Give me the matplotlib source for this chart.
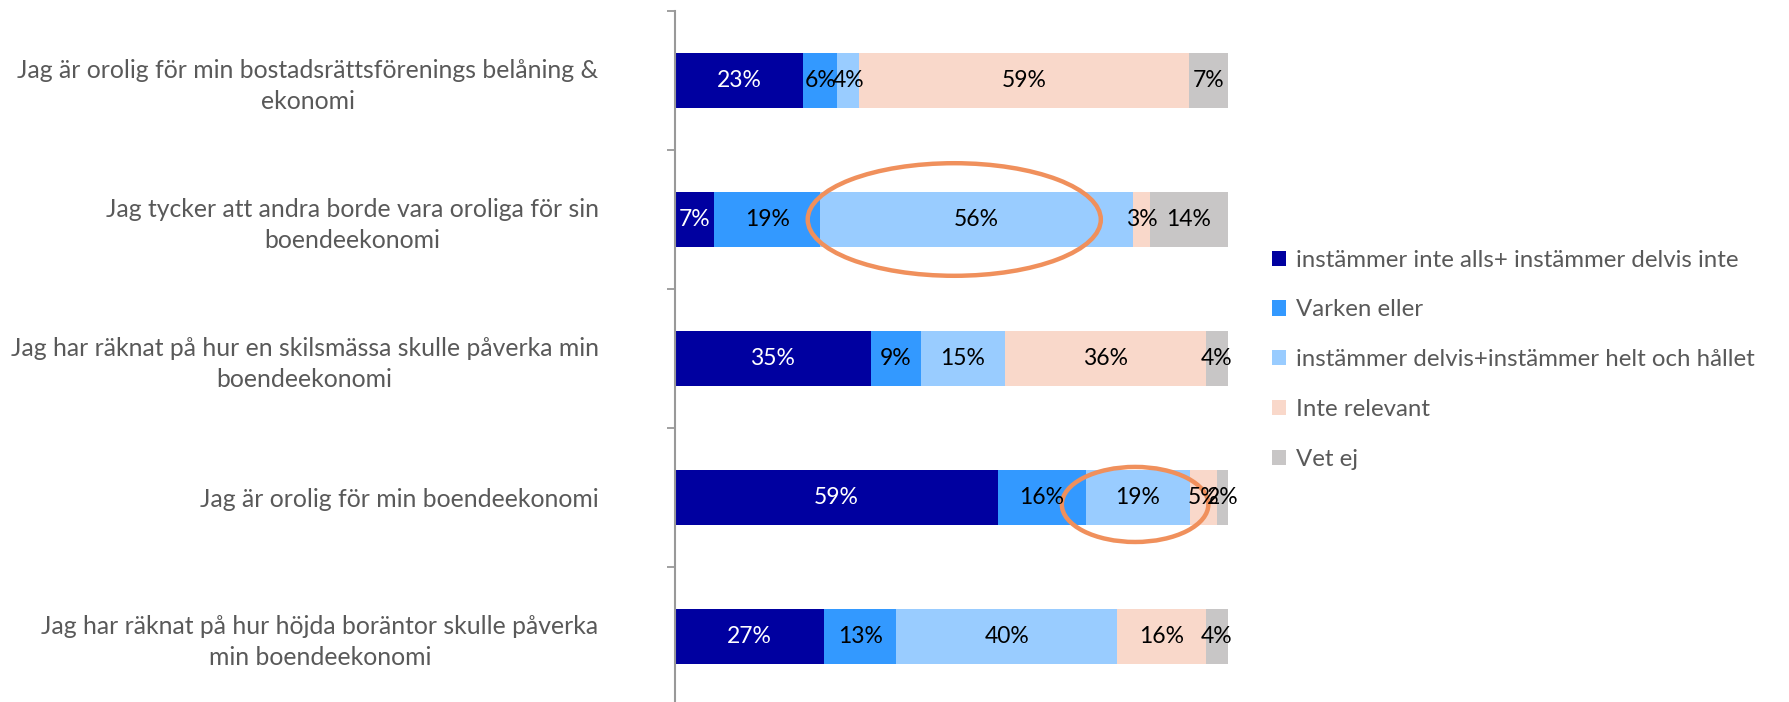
import numpy as np
import matplotlib
matplotlib.use('Agg')
import matplotlib.pyplot as plt
from matplotlib.patches import Ellipse, Patch

plt.rcParams['font.family'] = ['Lato', 'DejaVu Sans']

# survey statements (top to bottom)
statements = [
    "Jag är orolig för min bostadsrättsförenings belåning &\nekonomi",
    "Jag tycker att andra borde vara oroliga för sin\nboendeekonomi",
    "Jag har räknat på hur en skilsmässa skulle påverka min\nboendeekonomi",
    "Jag är orolig för min boendeekonomi",
    "Jag har räknat på hur höjda boräntor skulle påverka\nmin boendeekonomi",
]

answers = [
    "instämmer inte alls+ instämmer delvis inte",
    "Varken eller",
    "instämmer delvis+instämmer helt och hållet",
    "Inte relevant",
    "Vet ej",
]

# percent per answer, one list per answer, ordered like statements
disagree = [23, 7, 35, 59, 27]
neither = [6, 19, 9, 16, 13]
agree = [4, 56, 15, 19, 40]
not_relevant = [59, 3, 36, 5, 16]
dont_know = [7, 14, 4, 2, 4]

colors = ['#0000A0', '#3399FF', '#99CCFF', '#F9D8CA', '#C8C6C6']
text_colors = ['white', 'black', 'black', 'black', 'black']
grey = '#595959'

data = np.array([disagree, neither, agree, not_relevant, dont_know], dtype=float)
shares = data / data.sum(axis=0) * 100  # 100% stacked like the original chart

fig = plt.figure(figsize=(17.89, 7.02), dpi=100)
ax = fig.add_axes([675 / 1789, 1 - 706 / 702, 553 / 1789, 695 / 702])

y = np.arange(len(statements))
left = np.zeros(len(statements))
for i in range(len(answers)):
    ax.barh(y, shares[i], left=left, height=0.4, color=colors[i], label=answers[i])
    for j in range(len(statements)):
        ax.text(left[j] + shares[i][j] / 2, y[j], f"{int(data[i][j])}%",
                ha='center', va='center', fontsize=16.5, color=text_colors[i])
    left += shares[i]

# highlight circles
ax.add_patch(Ellipse((50.5, 1.0), 53, 0.81, fill=False, edgecolor='#F0905C', lw=3.2, clip_on=False))
ax.add_patch(Ellipse((83.2, 3.05), 26.5, 0.54, fill=False, edgecolor='#F0905C', lw=3.2, clip_on=False))

ax.set_xlim(0, 100)
ax.set_ylim(len(statements) - 0.5, -0.5)

ax.set_yticks(y)
ax.set_yticklabels(statements, fontsize=17.8, color=grey, multialignment='center', linespacing=1.42)
ax.tick_params(axis='y', which='major', length=0, pad=55)
ax.set_yticks(np.arange(-0.5, len(statements), 1), minor=True)
ax.tick_params(axis='y', which='minor', length=6, width=1.3, color='#999999')
ax.set_xticks([])

for s in ['top', 'right', 'bottom']:
    ax.spines[s].set_visible(False)
ax.spines['left'].set_color('#999999')
ax.spines['left'].set_linewidth(1.5)

handles = [Patch(facecolor=c, edgecolor='none') for c in colors]
fig.legend(handles, answers, loc='upper left', bbox_to_anchor=(1250 / 1789, 1 - 228 / 702),
           frameon=False, fontsize=17.3, labelcolor=grey, handlelength=0.6, handleheight=0.6,
           handletextpad=0.4, labelspacing=1.2)

fig.savefig('out.png', dpi=100)
